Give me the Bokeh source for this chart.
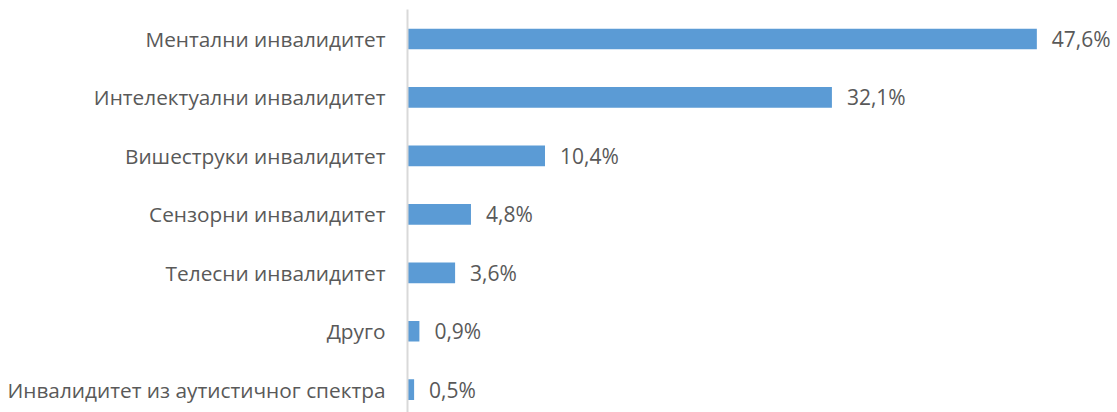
from bokeh.plotting import figure
from bokeh.models import Range1d, FixedTicker, ColumnDataSource
from bokeh.core.properties import value
from bokeh.embed import file_html
from bokeh.resources import INLINE

categories = [
    "Ментални инвалидитет",
    "Интелектуални инвалидитет",
    "Вишеструки инвалидитет",
    "Сензорни инвалидитет",
    "Телесни инвалидитет",
    "Друго",
    "Инвалидитет из аутистичног спектра",
]
values = [47.6, 32.1, 10.4, 4.8, 3.6, 0.9, 0.5]
value_labels = ["47,6%", "32,1%", "10,4%", "4,8%", "3,6%", "0,9%", "0,5%"]

FONT = "Open Sans"
TEXT_COLOR = "#595959"
BAR_COLOR = "#5B9BD5"

positions = list(range(len(categories)))
src = ColumnDataSource(dict(y=positions, v=values, lab=value_labels))

p = figure(
    width=1117, height=412,
    output_backend="svg", toolbar_location=None,
    x_range=Range1d(0, 53.7),
    y_range=Range1d(6.39, -0.505),
    min_border_left=407, min_border_right=0,
    min_border_top=9, min_border_bottom=0,
)
p.outline_line_color = None
p.grid.grid_line_color = None
p.xaxis.visible = False

p.hbar(y="y", left=0, right="v", height=0.354, source=src,
       fill_color=BAR_COLOR, line_color=None)

p.text(x="v", y="y", text="lab", source=src, x_offset=15,
       text_align="left", text_baseline="middle",
       text_font=value(FONT), text_font_size="21px", text_color=TEXT_COLOR)

yax = p.yaxis[0]
yax.ticker = FixedTicker(ticks=positions)
yax.major_label_overrides = {i: c for i, c in enumerate(categories)}
yax.major_tick_line_color = None
yax.minor_tick_line_color = None
yax.axis_line_color = "#D9D9D9"
yax.axis_line_width = 2
yax.major_label_standoff = 16
yax.major_label_text_font = FONT
yax.major_label_text_font_size = "20.8px"
yax.major_label_text_color = TEXT_COLOR

open("out.html", "w").write(file_html(p, INLINE))
